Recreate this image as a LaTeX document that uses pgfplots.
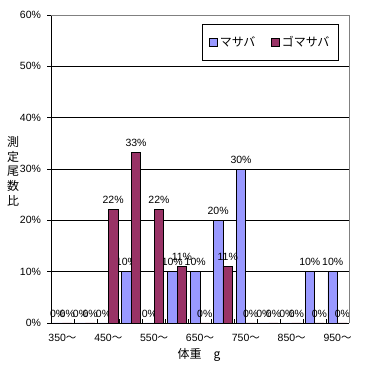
\documentclass[border=0pt]{standalone}
\usepackage{fontspec}
\setmainfont{Liberation Sans}
\newfontfamily\jp{Noto Sans CJK JP}
\usepackage{pgfplots}
\pgfplotsset{compat=1.18}
\definecolor{msaba}{HTML}{9999FF}
\definecolor{gsaba}{HTML}{993366}
\definecolor{framegray}{HTML}{808080}

\pgfplotstableread{
x  masaba  gomasaba
0  0       0
1  0       0
2  0       22.2
3  10      33.3
4  0       22.2
5  10      11.1
6  10      0
7  20      11.1
8  30      0
9  0       0
10 0       0
11 10      0
12 10      0
}\datatable

\begin{document}
\begin{tikzpicture}[font=\fontsize{10.5}{12}\selectfont]
\begin{axis}[
  at={(0,0)}, anchor=south west,
  scale only axis, width=298pt, height=308pt,
  clip mode=individual,
  /pgf/number format/assume math mode=true,
  ybar=0pt, bar width=9.6pt,
  xmin=-0.5, xmax=12.5, ymin=0, ymax=60,
  axis x line*=bottom, axis y line*=left,
  axis line style={black, line width=0.8pt, -},
  xtick={-0.5,0.5,...,12.5},
  xticklabels={},
  x tick style={black, line width=0.6pt},
  xtick align=inside,
  extra x ticks={0,2,4,6,8,10,12},
  extra x tick labels={350{\jp ～},450{\jp ～},550{\jp ～},650{\jp ～},750{\jp ～},850{\jp ～},950{\jp ～}},
  extra x tick style={major tick length=0pt, grid=none, xticklabel style={yshift=-8pt}},
  ytick={0,10,...,60},
  yticklabel={\pgfmathprintnumber{\tick}\%},
  ytick align=outside,
  major tick length=3.5pt,
  y tick style={black, line width=0.6pt},
  yticklabel style={xshift=-3pt},
  ymajorgrids,
  grid style={black, line width=0.7pt},
  every axis plot/.append style={draw=black, line width=0.7pt},
  nodes near coords={\pgfmathprintnumber[fixed,precision=0]{\pgfplotspointmeta}\%},
  nodes near coords style={font=\fontsize{10.5}{12}\selectfont, yshift=2pt},
  legend columns=2,
  legend image code/.code={\draw[#1, draw=black, line width=0.6pt] (0pt,-4pt) rectangle (8pt,4pt);},
  legend style={at={(axis description cs:0.966,0.971)}, anchor=north east,
    draw=black, line width=0.8pt, inner xsep=7pt, inner ysep=10pt,
    font=\jp\fontsize{12}{14}\selectfont,
    /tikz/every even column/.append style={column sep=14pt}},
]
\addplot[fill=msaba] table[x=x, y=masaba] {\datatable};
\addplot[fill=gsaba] table[x=x, y=gomasaba] {\datatable};
\legend{マサバ, ゴマサバ}
\draw[framegray, line width=0.8pt] (rel axis cs:0,1) -- (rel axis cs:1,1) -- (rel axis cs:1,0);
\node[align=center, font=\jp\fontsize{12}{14.6}\selectfont] at (axis description cs:-0.1275,0.493) {測\\定\\尾\\数\\比};
\node[font=\jp\fontsize{12}{14}\selectfont] at (axis description cs:0.497,-0.104) {体重　g};
\end{axis}
\pgfresetboundingbox
\path (-51pt,-44pt) rectangle (316pt,323pt);
\end{tikzpicture}
\end{document}
